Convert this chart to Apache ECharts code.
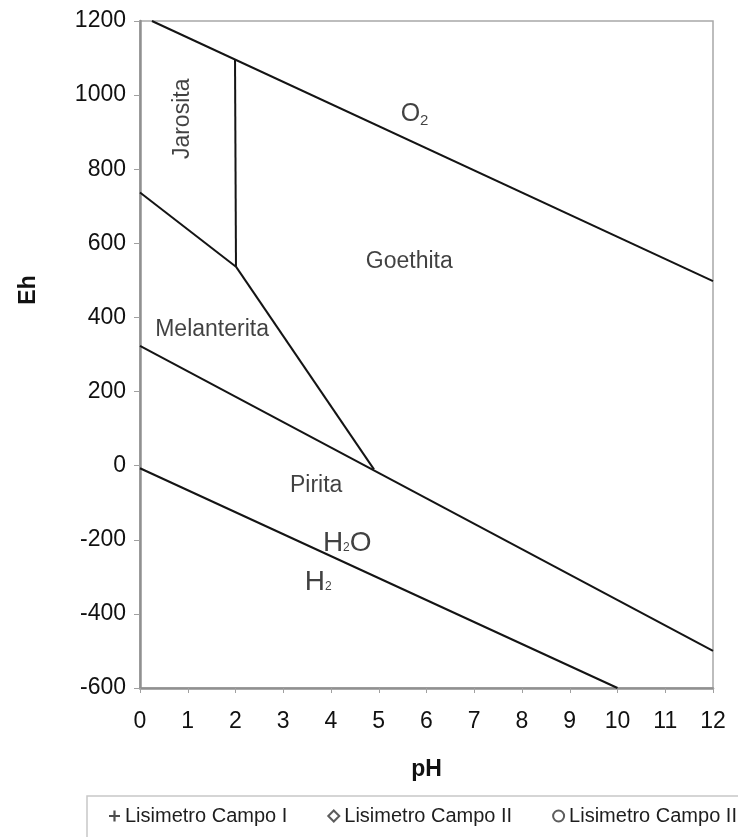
<!DOCTYPE html>
<html>
<head>
<meta charset="utf-8">
<script src="https://cdn.jsdelivr.net/npm/echarts@6/dist/echarts.min.js"></script>
<style>
  html, body { margin: 0; padding: 0; background: #fff; }
  #chart { width: 738px; height: 837px; }
</style>
</head>
<body>
<div id="chart"></div>
<script>
// boundary lines of the Eh-pH diagram, [pH, Eh]
const o2Line = [[0.25, 1200], [12, 498]];
const jarositaBase = [[0, 737], [2.01, 537]];
const jarositaWall = [[1.99, 1095], [2.01, 537]];
const pyriteBound = [[2.01, 537], [4.9, -10]];
const waterLine = [[0, 323], [12, -500]];
const h2Line = [[0, -7], [10, -600]];

// field labels, [pH, Eh, text]
const fieldLabels = [
  [0.9, 936, 'Jarosita'],
  [5.75, 949, '{b|O}{s|2}'],
  [5.64, 550, 'Goethita'],
  [1.51, 366, 'Melanterita'],
  [3.69, -55, 'Pirita'],
  [4.34, -209, '{h|H}{t|2}{h|O}'],
  [3.73, -314, '{h|H}{t|2}']
];

const legendNames = ['Lisimetro Campo I', 'Lisimetro Campo II', 'Lisimetro Campo III'];

const chart = echarts.init(document.getElementById('chart'));

const fontFamily = '"Liberation Sans", Arial, sans-serif';
const textColor = '#111';
const lineStyle = { color: '#141414', width: 2 };

const boundary = (data) => ({
  type: 'line',
  data,
  symbol: 'none',
  silent: true,
  lineStyle,
  z: 3
});

const option = {
  backgroundColor: '#fff',
  animation: false,
  grid: {
    left: 140,
    right: 25,
    top: 21,
    bottom: 149,
    show: true,
    borderColor: '#a8a8a8',
    borderWidth: 1.5
  },
  xAxis: {
    type: 'value',
    min: 0,
    max: 12,
    interval: 1,
    name: 'pH',
    nameLocation: 'middle',
    nameGap: 70,
    nameTextStyle: { fontFamily, fontSize: 23, fontWeight: 'bold', color: textColor },
    axisLine: { onZero: false, lineStyle: { color: '#909090', width: 2.5 } },
    axisTick: { length: 5, lineStyle: { color: '#a0a0a0' } },
    axisLabel: { fontFamily, fontSize: 23, color: textColor, margin: 22 },
    splitLine: { show: false }
  },
  yAxis: {
    type: 'value',
    min: -600,
    max: 1200,
    interval: 200,
    name: 'Eh',
    nameLocation: 'middle',
    nameGap: 100,
    nameTextStyle: { fontFamily, fontSize: 23, fontWeight: 'bold', color: textColor, padding: [0, 0, 0, 129] },
    axisLine: { onZero: false, lineStyle: { color: '#909090', width: 2.5 } },
    axisTick: { length: 6, lineStyle: { color: '#a0a0a0' } },
    axisLabel: { fontFamily, fontSize: 23, color: textColor, margin: 14, formatter: v => String(v) },
    splitLine: { show: false }
  },
  legend: {
    left: 87,
    top: 796,
    width: 1000,
    padding: [10, 40, 12, 22],
    itemGap: 40,
    itemWidth: 11,
    itemHeight: 11,
    borderColor: '#c8c8c8',
    borderWidth: 1.5,
    textStyle: { fontFamily, fontSize: 20, color: '#1e1e1e' },
    data: legendNames
  },
  series: [
    boundary(o2Line),
    boundary(jarositaBase),
    boundary(jarositaWall),
    boundary(pyriteBound),
    boundary(waterLine),
    boundary(h2Line),
    {
      type: 'scatter',
      symbolSize: 0,
      silent: true,
      z: 5,
      data: fieldLabels.map(d => ({
        value: [d[0], d[1]],
        label: {
          formatter: d[2],
          rotate: d[2] === 'Jarosita' ? 90 : 0
        }
      })),
      label: {
        show: true,
        position: 'inside',
        fontFamily,
        fontSize: 23,
        color: textColor,
        rich: {
          b: { fontFamily, fontSize: 25, color: textColor, lineHeight: 28 },
          s: { fontFamily, fontSize: 15, color: textColor, lineHeight: 15, verticalAlign: 'bottom' },
          h: { fontFamily, fontSize: 28, color: textColor, lineHeight: 30 },
          t: { fontFamily, fontSize: 12, color: textColor, lineHeight: 12, verticalAlign: 'bottom', padding: [0, 0, 4, 0] }
        }
      }
    },
    {
      name: legendNames[0],
      type: 'scatter',
      symbol: 'path://M4,0H6V4H10V6H6V10H4V6H0V4H4Z',
      itemStyle: { color: '#222' },
      data: []
    },
    {
      name: legendNames[1],
      type: 'scatter',
      symbol: 'diamond',
      itemStyle: { color: '#fff', borderColor: '#333', borderWidth: 1.5 },
      data: []
    },
    {
      name: legendNames[2],
      type: 'scatter',
      symbol: 'circle',
      itemStyle: { color: '#fff', borderColor: '#333', borderWidth: 1.5 },
      data: []
    }
  ]
};

chart.setOption(option);
</script>
</body>
</html>
